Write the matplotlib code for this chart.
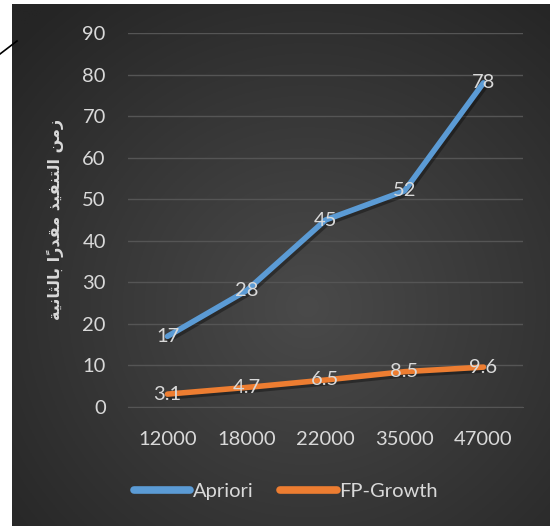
import numpy as np
import matplotlib.pyplot as plt
import matplotlib.patheffects as pe
import unicodedata

# data
categories = ["12000", "18000", "22000", "35000", "47000"]
apriori = [17, 28, 45, 52, 78]
fpgrowth = [3.1, 4.7, 6.5, 8.5, 9.6]
series_names = ["Apriori", "FP-Growth"]
yticks = [0, 10, 20, 30, 40, 50, 60, 70, 80, 90]

# "زمن التنفيذ مقدراً بالثانية" written with contextual forms (matplotlib does no shaping)
ylabel_words = [
    "\uFEAF\uFEE3\uFEE6",
    "\uFE8D\uFEDF\uFE98\uFEE8\uFED4\uFEF4\uFEAC",
    "\uFEE3\uFED8\uFEAA\uFEAD\uFE8D\u064B",
    "\uFE91\uFE8E\uFEDF\uFE9C\uFE8E\uFEE7\uFEF4\uFE94",
]


def visual(words):
    # reverse order for right-to-left, keep marks after their base letter
    out = []
    for w in words[::-1]:
        clusters = []
        for ch in w:
            if unicodedata.combining(ch) and clusters:
                clusters[-1] += ch
            else:
                clusters.append(ch)
        out.append("".join(clusters[::-1]))
    return " ".join(out)


txt = "#D9D9D9"
blue = "#5B9BD5"
orange = "#ED7D31"
font = "Lato"
fs = 14.5

fig = plt.figure(figsize=(5.5, 5.26), dpi=100)
fig.patch.set_facecolor("white")

# chart area background with radial gradient
bg = fig.add_axes([12 / 550, 0, 1 - 12 / 550, 1 - 4 / 526])
yy, xx = np.mgrid[0:1:300j, 0:1:300j]
r = np.sqrt((xx - 0.55) ** 2 + (yy - 0.42) ** 2)
v = np.clip(0x4a - (0x4a - 0x25) * (r / 0.75), 0x25, 0x4a) / 255.0
img = np.dstack([v, v, v])
bg.imshow(img, aspect="auto", extent=[0, 1, 0, 1], origin="lower")
bg.set_axis_off()

# little connector line at top-left
fig.add_artist(plt.Line2D([0, 17 / 550], [1 - 54 / 526, 1 - 41 / 526],
                          color="black", lw=1.2, transform=fig.transFigure))

ax = fig.add_axes([128 / 550, 119 / 526, 395 / 550, 374 / 526])
ax.patch.set_alpha(0)
x = np.arange(len(categories))

shadow = [pe.SimpleLineShadow(offset=(1.5, -2), shadow_color="black", alpha=0.35), pe.Normal()]
ax.plot(x, apriori, color=blue, lw=4, solid_capstyle="round", label=series_names[0],
        path_effects=shadow, zorder=3)
ax.plot(x, fpgrowth, color=orange, lw=4, solid_capstyle="round", label=series_names[1],
        path_effects=shadow, zorder=3)

for xi, a, f in zip(x, apriori, fpgrowth):
    ax.text(xi, a, str(a), color=txt, fontsize=fs, family=font, ha="center", va="center", zorder=4)
    ax.text(xi, f, str(f), color=txt, fontsize=fs, family=font, ha="center", va="center", zorder=4)

ax.set_xlim(-0.5, len(categories) - 0.5)
ax.set_ylim(0, 90)
ax.set_yticks(yticks)
ax.set_xticks(x)
ax.set_xticklabels(categories)
ax.grid(axis="y", color="#555555", lw=1)
ax.set_axisbelow(True)
for s in ["top", "right", "left"]:
    ax.spines[s].set_visible(False)
ax.spines["bottom"].set_color("#555555")
ax.tick_params(axis="both", length=0, colors=txt, labelsize=fs)
ax.tick_params(axis="y", pad=16)
ax.tick_params(axis="x", pad=17)
for lab in ax.get_xticklabels() + ax.get_yticklabels():
    lab.set_family(font)

fig.text(55 / 550, 1 - 219 / 526, visual(ylabel_words), rotation=90, color=txt,
         fontsize=11.5, family=["DejaVu Sans"], fontweight="bold", ha="center", va="center")

leg = fig.legend(loc="center", bbox_to_anchor=(286 / 550, 1 - 491 / 526), ncol=2, frameon=False,
                 handlelength=2.8, handletextpad=0.15, columnspacing=1.3,
                 prop={"family": font, "size": fs})
for t in leg.get_texts():
    t.set_color(txt)
for h in leg.legend_handles:
    h.set_linewidth(5.5)
    h.set_path_effects([])

fig.savefig("out.png", dpi=100)
